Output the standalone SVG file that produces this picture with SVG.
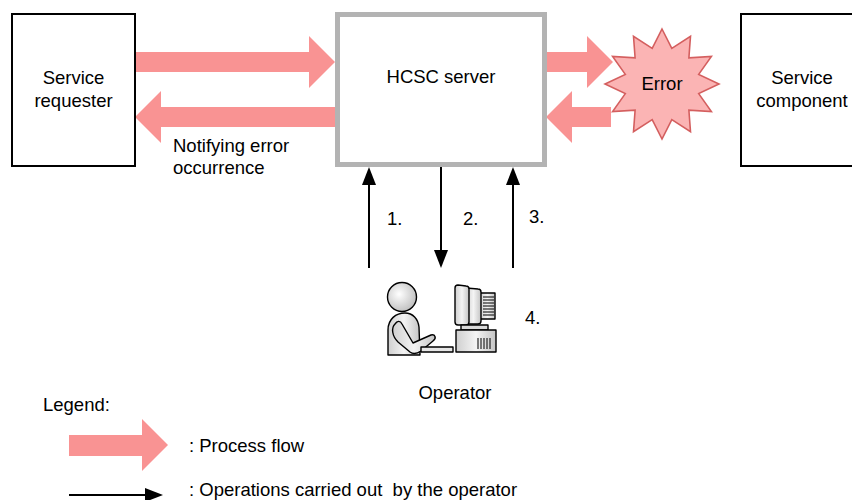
<svg xmlns="http://www.w3.org/2000/svg" width="852" height="500" viewBox="0 0 852 500">
  <defs>
    <style>
      text { font-family: "Liberation Sans", Arial, sans-serif; font-size: 18.5px; fill: #000; white-space: pre; }
      .mid { text-anchor: middle; }
      .box { fill: #fff; stroke: #000; stroke-width: 2; }
      .server { fill: #fff; stroke: #b3b3b3; stroke-width: 5; }
      .flow { fill: #f99393; }
      .op { stroke: #000; stroke-width: 2; fill: none; }
      .ic { stroke: #000; stroke-width: 1.4; stroke-linejoin: round; }
      .vent { stroke: #000; stroke-width: 1; }
    </style>
    <marker id="ah" markerUnits="userSpaceOnUse" markerWidth="18" markerHeight="14" refX="0" refY="7" orient="auto">
      <path d="M0,0 L18,7 L0,14 Z" fill="#000"/>
    </marker>
    <radialGradient id="gHead" cx="0.4" cy="0.4" r="0.7">
      <stop offset="0" stop-color="#ffffff"/>
      <stop offset="1" stop-color="#b8b8b8"/>
    </radialGradient>
    <linearGradient id="gBody" x1="0" y1="0" x2="1" y2="0">
      <stop offset="0" stop-color="#cfcfcf"/>
      <stop offset="0.5" stop-color="#f4f4f4"/>
      <stop offset="1" stop-color="#c4c4c4"/>
    </linearGradient>
  </defs>

  <!-- connectors -->
  <g id="connectors">
    <path class="flow" d="M135,52 H309 V36 L335,62 L309,88 V72 H135 Z"/>
    <path class="flow" d="M336,107 H161 V91 L135,117 L161,143 V127 H336 Z"/>
    <path class="flow" d="M547,52 H587 V36 L613,62 L587,88 V72 H547 Z"/>
    <path class="flow" d="M611,107 H572 V91 L546,117 L572,143 V127 H611 Z"/>
    <line class="op" x1="369" y1="268" x2="369" y2="185" marker-end="url(#ah)"/>
    <line class="op" x1="441" y1="167" x2="441" y2="250" marker-end="url(#ah)"/>
    <line class="op" x1="513" y1="268" x2="513" y2="185" marker-end="url(#ah)"/>
    <text x="387" y="225">1.</text>
    <text x="463" y="225">2.</text>
    <text x="529" y="223">3.</text>
    <text x="525" y="324">4.</text>
    <text x="173" y="152">Notifying error</text>
    <text x="173" y="174">occurrence</text>
  </g>

  <!-- service requester -->
  <g id="service-requester">
    <rect class="box" x="12" y="14" width="123" height="152"/>
    <text class="mid" x="73.5" y="84">Service</text>
    <text class="mid" x="73.5" y="107">requester</text>
  </g>

  <!-- HCSC server -->
  <g id="hcsc-server">
    <rect class="server" x="337.5" y="14.5" width="207" height="150"/>
    <text class="mid" x="441" y="83">HCSC server</text>
  </g>

  <!-- error burst -->
  <g id="error">
    <polygon fill="#fbb4b4" stroke="#d45f5f" stroke-width="1.6" stroke-linejoin="miter"
      points="662,29 671.8,48.3 690.5,36.4 688.9,57.8 711.4,56.5 698.7,74.4 719,84 698.7,93.6 711.4,111.5 688.9,110.2 690.5,131.6 671.8,119.7 662,139 652.2,119.7 633.5,131.6 635.1,110.2 612.6,111.5 625.3,93.6 605,84 625.3,74.4 612.6,56.5 635.1,57.8 633.5,36.4 652.2,48.3"/>
    <text class="mid" x="662" y="90">Error</text>
  </g>

  <!-- service component -->
  <g id="service-component">
    <rect class="box" x="741" y="14" width="124" height="152"/>
    <text class="mid" x="802" y="84">Service</text>
    <text class="mid" x="802" y="107">component</text>
  </g>

  <!-- operator at the terminal -->
  <g id="operator">
    <path class="ic" fill="url(#gBody)" d="M388,355 L388,330 C388,319 396,313 405,313 C413,313 418,319 419,327 L420,355 Z"/>
    <circle class="ic" cx="402" cy="297" r="14.5" fill="url(#gHead)"/>
    <path class="ic" fill="url(#gBody)" d="M395,324 C391,328 392,336 398,342 L410,352 C414,355 418,353 421,351 L433,341 C437,338 435,334 431,335 L413,343 L402,324 C400,320 397,321 395,324 Z"/>
    <rect class="ic" fill="#e6e6e6" x="421" y="347" width="32" height="5"/>
    <rect class="ic" fill="url(#gBody)" x="480" y="293" width="15" height="26"/>
    <g class="vent">
      <line x1="483" y1="297" x2="494" y2="297"/>
      <line x1="483" y1="300" x2="494" y2="300"/>
      <line x1="483" y1="303" x2="494" y2="303"/>
      <line x1="483" y1="306" x2="494" y2="306"/>
      <line x1="483" y1="309" x2="494" y2="309"/>
      <line x1="483" y1="312" x2="494" y2="312"/>
      <line x1="483" y1="315" x2="494" y2="315"/>
    </g>
    <path class="ic" fill="url(#gBody)" d="M466,288 L478,289 C480,289 481,290 481,292 L481,321 C481,323 480,324 478,324 L466,324 Z"/>
    <path class="ic" fill="url(#gBody)" d="M458,285 L466,286 C468,286 469,287 469,289 L469,322 C469,324 468,325 466,325 L458,325 C456,325 455,324 455,322 L455,288 C455,286 456,285 458,285 Z"/>
    <rect class="ic" fill="#d9d9d9" x="461" y="325" width="27" height="5"/>
    <rect class="ic" fill="url(#gBody)" x="456" y="330" width="40" height="22"/>
    <g class="vent">
      <line x1="478" y1="338" x2="478" y2="349"/>
      <line x1="481" y1="338" x2="481" y2="349"/>
      <line x1="484" y1="338" x2="484" y2="349"/>
      <line x1="487" y1="338" x2="487" y2="349"/>
      <line x1="490" y1="338" x2="490" y2="349"/>
    </g>
    <text class="mid" x="455" y="399">Operator</text>
  </g>

  <!-- legend -->
  <g id="legend">
    <text x="43" y="411">Legend:</text>
    <path class="flow" d="M69,435 H142 V419 L168,445 L142,471 V456 H69 Z"/>
    <text x="189" y="452">: Process flow</text>
    <line class="op" x1="69" y1="495" x2="145" y2="495" marker-end="url(#ah)"/>
    <text x="189" y="495.5">: Operations carried out  by the operator</text>
  </g>
</svg>
